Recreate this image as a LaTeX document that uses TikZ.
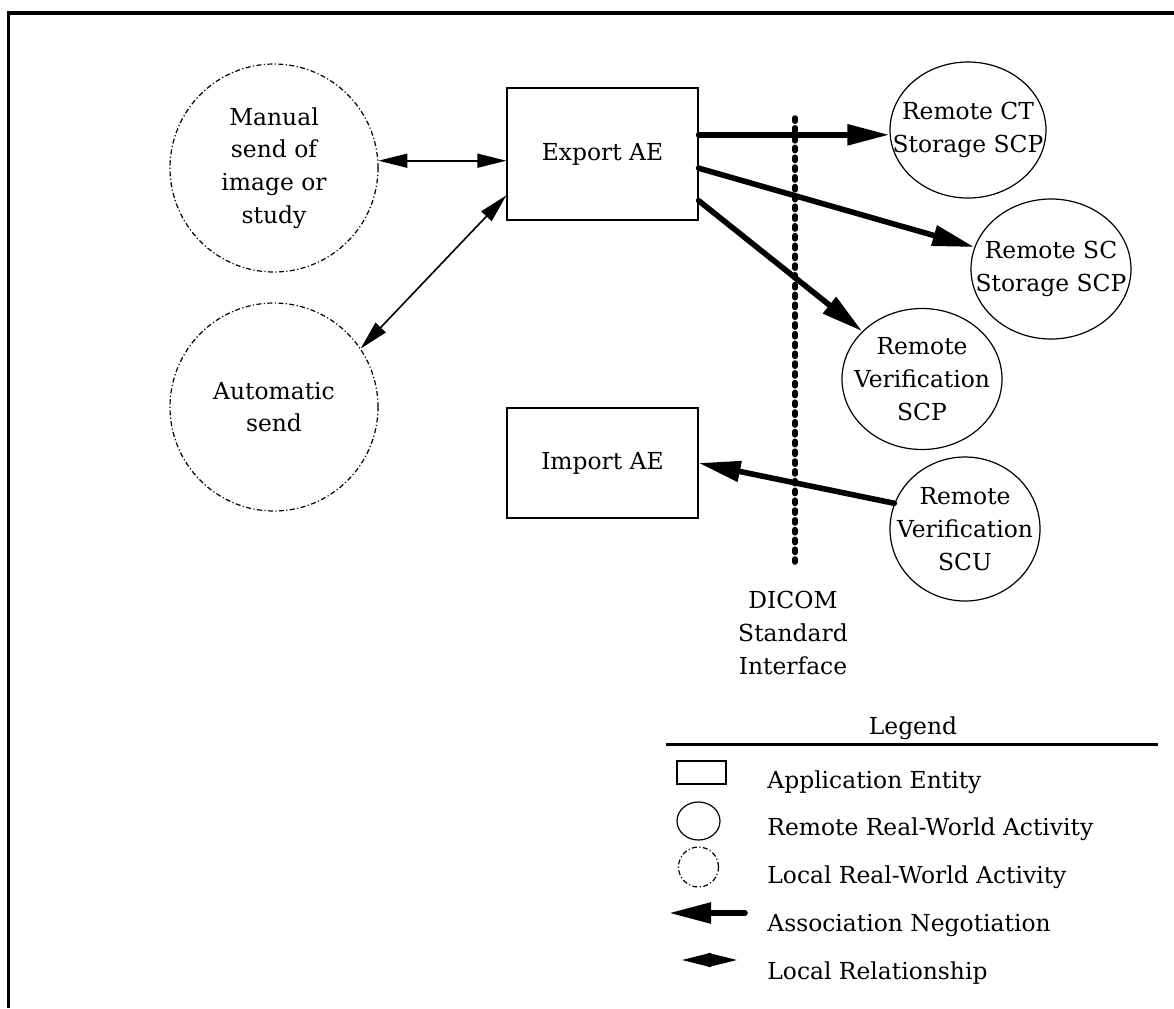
\documentclass[tikz,border=0pt]{standalone}
\usepackage{fontspec}
\setmainfont{DejaVu Serif}
\usetikzlibrary{arrows.meta, shapes.geometric, calc, positioning}
\tikzstyle{aeBox} = [rectangle, draw=black, line width=0.6pt, minimum width=95.5pt, minimum height=66pt, align=center]
\tikzstyle{remoteAct} = [ellipse, draw=black, line width=0.6pt, inner sep=0pt]
\tikzstyle{localAct} = [circle, draw=black, line width=0.6pt, dash pattern=on 2.5pt off 1.2pt on 0.6pt off 1.2pt, minimum size=104pt, inner sep=0pt, align=center]
\tikzstyle{actText} = [align=center, inner sep=0pt]
\tikzstyle{arrowAssoc} = [line width=2.8pt, line cap=round, -{Triangle[length=21pt,width=10pt]}]
\tikzstyle{arrowLocal} = [line width=0.8pt, {Triangle[length=14.5pt,width=7pt]}-{Triangle[length=14.5pt,width=7pt]}]
\tikzstyle{dicomLine} = [line width=2.8pt, line cap=round, dash pattern=on 1.6pt off 3.3pt]
\tikzstyle{legendText} = [anchor=west, inner sep=0pt]
\begin{document}
\begin{tikzpicture}[x=0.5pt, y=-0.5pt, font=\fontsize{11.7pt}{16.4pt}\selectfont]

    \useasboundingbox (0,0) rectangle (1174,1008);
    \draw [line width=1.75pt] (8.5,1008) -- (8.5,13) -- (1174,13);

    % local real-world activities
    \node (manual) [localAct] at (274,168) {Manual\\send of\\image or\\study};
    \node (auto) [localAct] at (274,407) {Automatic\\send};

    % application entities
    \node (export) [aeBox] at (602.5,154) {Export AE};
    \node (import) [aeBox, minimum height=55pt] at (602.5,463) {Import AE};

    % remote real-world activities
    \node (ct) [remoteAct, minimum width=78pt, minimum height=68pt] at (968,130) {};
    \node (ctText) [actText] at (ct) {Remote CT\\Storage SCP};
    \node (sc) [remoteAct, minimum width=80pt, minimum height=70pt] at (1051,269) {};
    \node (scText) [actText] at (sc) {Remote SC\\Storage SCP};
    \node (ver) [remoteAct, minimum width=80pt, minimum height=70.5pt] at (922,379) {};
    \node (verText) [actText] at (ver) {Remote\\Verification\\SCP};
    \node (scu) [remoteAct, minimum width=75pt, minimum height=72pt] at (965,529) {};
    \node (scuText) [actText] at (scu) {Remote\\Verification\\SCU};

    % DICOM interface
    \coordinate (ifTop) at (795,118);
    \coordinate (ifBot) at (795,562);
    \draw [dicomLine] (ifTop) -- (ifBot);
    \node (ifLabel) [actText] at (793,633) {DICOM\\Standard\\Interface};

    % local relationships
    \draw [arrowLocal] (manual.4) -- (manual.4 -| export.west);
    \draw [arrowLocal] (auto.34) -- ($(export.north west)!0.81!(export.south west)$);

    % association negotiation
    \coordinate (ctStart) at ($(export.north east)!0.356!(export.south east)$);
    \draw [arrowAssoc] (ctStart) -- (ctStart -| ct.west);
    \draw [arrowAssoc] ($(export.north east)!0.606!(export.south east)$) -- (sc);
    \draw [arrowAssoc] ($(export.north east)!0.85!(export.south east)$) -- (ver);
    \draw [arrowAssoc] (scu.160) -- (import.east);

    % legend
    \node (legendTitle) at (913,728) {Legend};
    \coordinate (legL) at (666,744);
    \coordinate (legR) at (1158,744);
    \draw [line width=1.5pt] (legL) -- (legR);

    \node (legAE) [aeBox, minimum width=24.5pt, minimum height=11.5pt] at (701.5,772.5) {};
    \node (legRemote) [remoteAct, minimum width=21.5pt, minimum height=19pt] at (698.5,821) {};
    \node (legLocal) [localAct, minimum size=20pt] at (698.5,867) {};
    \coordinate (legAssocA) at (745,913);
    \coordinate (legAssocB) at (669,913);
    \draw [arrowAssoc] (legAssocA) -- (legAssocB);
    \coordinate (legLocA) at (682,960);
    \coordinate (legLocB) at (737,960);
    \draw [arrowLocal] (legLocA) -- (legLocB);

    \node (legAEText) [legendText] at (767,782) {Application Entity};
    \node (legRemoteText) [legendText] at (767,829) {Remote Real-World Activity};
    \node (legLocalText) [legendText] at (767,877) {Local Real-World Activity};
    \node (legAssocText) [legendText] at (767,925) {Association Negotiation};
    \node (legLocText) [legendText] at (767,973) {Local Relationship};

\end{tikzpicture}
\end{document}
